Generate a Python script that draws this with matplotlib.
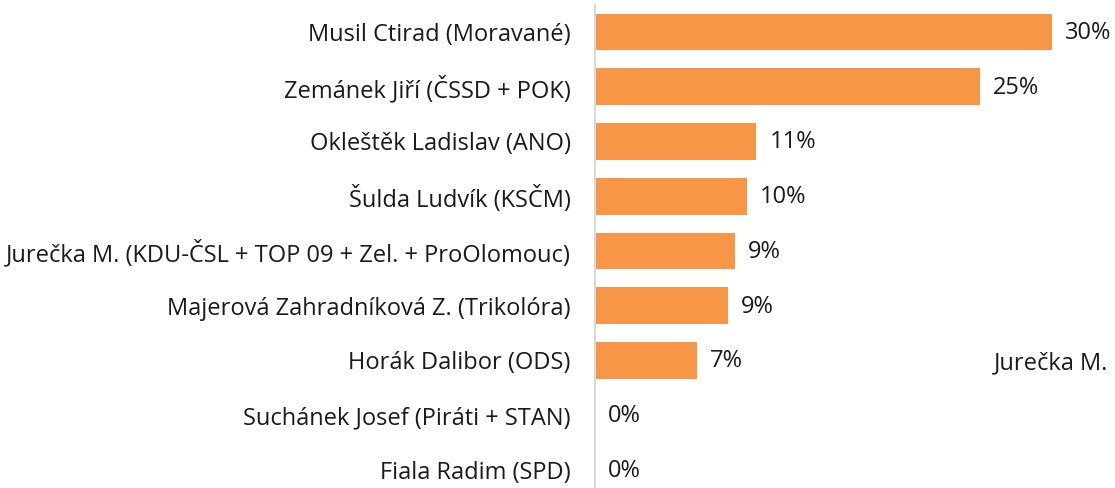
import matplotlib
matplotlib.use("Agg")
import matplotlib.pyplot as plt
from matplotlib.transforms import offset_copy

plt.rcParams['font.family'] = ['Open Sans', 'DejaVu Sans']

candidates = [
    "Musil Ctirad (Moravané)",
    "Zemánek Jiří (ČSSD + POK)",
    "Okleštěk Ladislav (ANO)",
    "Šulda Ludvík (KSČM)",
    "Jurečka M. (KDU-ČSL + TOP 09 + Zel. + ProOlomouc)",
    "Majerová Zahradníková Z. (Trikolóra)",
    "Horák Dalibor (ODS)",
    "Suchánek Josef (Piráti + STAN)",
    "Fiala Radim (SPD)",
]
shares = [30.0, 25.3, 10.6, 10.0, 9.2, 8.7, 6.7, 0.0, 0.0]
labels = ["30%", "25%", "11%", "10%", "9%", "9%", "7%", "0%", "0%"]

W, H = 1115, 488
FS = 17
fig = plt.figure(figsize=(W/100, H/100), dpi=100)
left = 595 / W
top_px = 4.6
ax = fig.add_axes([left, 0, 1 - left, 1 - top_px / H])

pos = list(range(len(candidates)))
ax.barh(pos, shares, height=0.67, color="#F79646")
ax.set_ylim(-0.5 + (H - top_px) / 54.75, -0.5)
ax.set_xlim(0, (W - 595) / 15.23)

ax.set_yticks(pos)
ax.set_yticklabels(candidates, fontsize=FS, color="#1a1a1a")
ax.tick_params(axis='y', length=0, pad=17.5)
ax.set_xticks([])
for s in ["top", "right", "bottom"]:
    ax.spines[s].set_visible(False)
ax.spines["left"].set_color("#D9D9D9")
ax.spines["left"].set_linewidth(1.5)

for p, v, lab in zip(pos, shares, labels):
    t = offset_copy(ax.transData, fig=fig, x=13 * 0.72, y=-1 * 0.72, units='points')
    ax.text(v, p, lab, transform=t, ha='left', va='center', fontsize=FS, color="#1a1a1a")

fig.text(1108 / W, 1 - 363 / H, "Jurečka M.", ha='right', va='center', fontsize=FS, color="#1a1a1a")

fig.savefig("out.png", dpi=100)
